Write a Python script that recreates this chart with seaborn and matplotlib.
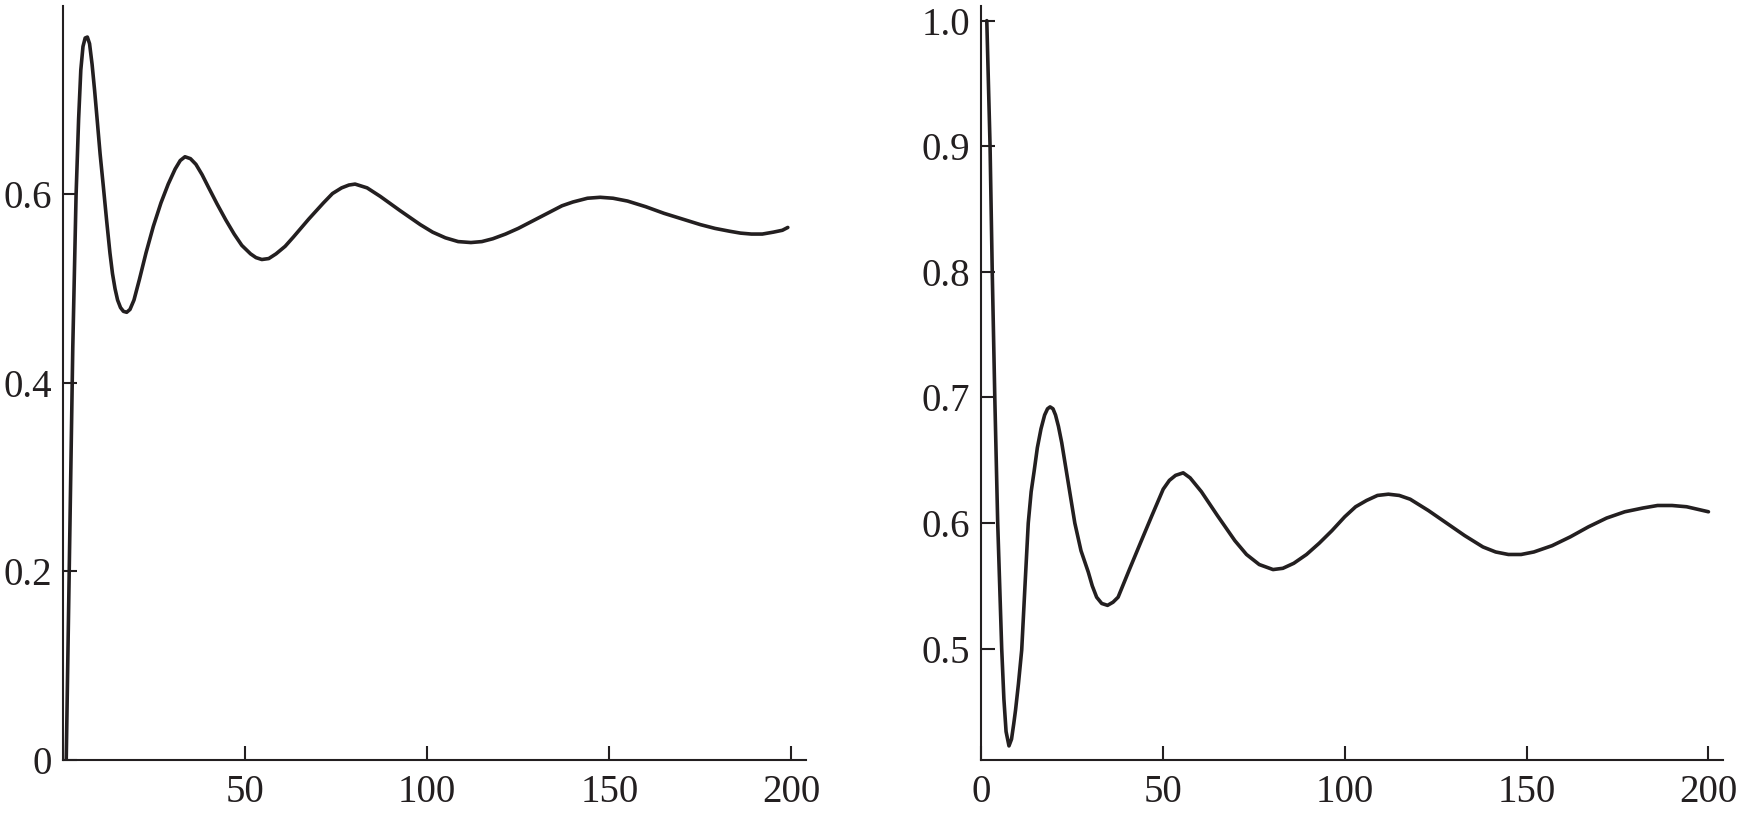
import numpy as np
import pandas as pd
import matplotlib
matplotlib.use("Agg")
import matplotlib.pyplot as plt
import seaborn as sns

# left panel curve
left_x = [0.9, 1.8, 2.7, 3.6, 4.3, 4.9, 5.5, 6.1, 6.7, 7.3, 8.0, 8.7, 9.4, 10.2,
          11.1, 12.0, 12.9, 13.6, 14.3, 15.0, 15.8, 16.6, 17.5, 18.4, 19.5, 21.0,
          22.8, 24.8, 26.9, 28.9, 30.8, 32.2, 33.5, 35.0, 36.5, 38.2, 39.9, 42.3,
          44.7, 47.0, 49.1, 51.5, 53.0, 54.6, 56.5, 58.5, 61.0, 63.3, 67.5, 71.5,
          74.0, 76.5, 78.5, 80.2, 83.5, 87.1, 92.5, 98.1, 101.5, 105.0, 108.5,
          112.0, 115.0, 118.0, 121.5, 125.0, 129.0, 133.0, 137.0, 140.0, 144.0,
          147.5, 151.0, 155.0, 160.0, 165.0, 170.0, 175.0, 179.0, 183.0, 186.0,
          189.0, 192.0, 195.0, 197.5, 199.0]
left_y = [0.0, 0.22, 0.438, 0.599, 0.680, 0.732, 0.757, 0.766, 0.767, 0.760,
          0.738, 0.710, 0.679, 0.643, 0.608, 0.572, 0.538, 0.516, 0.500, 0.488,
          0.480, 0.476, 0.475, 0.478, 0.488, 0.510, 0.538, 0.566, 0.591, 0.611,
          0.627, 0.636, 0.640, 0.638, 0.632, 0.621, 0.608, 0.590, 0.573, 0.558,
          0.546, 0.537, 0.533, 0.531, 0.532, 0.537, 0.545, 0.555, 0.574, 0.591,
          0.601, 0.607, 0.610, 0.611, 0.607, 0.598, 0.583, 0.568, 0.560, 0.554,
          0.550, 0.549, 0.550, 0.553, 0.558, 0.564, 0.572, 0.580, 0.588, 0.592,
          0.596, 0.597, 0.596, 0.593, 0.587, 0.580, 0.574, 0.568, 0.564, 0.561,
          0.559, 0.558, 0.558, 0.560, 0.562, 0.565]

# right panel curve
right_x = [1.6, 2.5, 3.1, 3.8, 4.6, 5.7, 6.3, 6.9, 7.7, 8.4, 9.0, 9.5, 10.3,
           11.2, 12.1, 13.0, 13.8, 14.6, 15.5, 16.5, 17.5, 18.3, 19.0, 19.8,
           20.5, 21.3, 22.2, 24.0, 25.8, 27.5, 29.5, 30.6, 31.8, 33.2, 34.8,
           36.3, 37.7, 40.8, 44.1, 47.0, 50.1, 51.8, 53.5, 55.6, 57.5, 60.6,
           65.0, 69.8, 73.0, 76.5, 80.3, 83.0, 86.0, 89.5, 93.0, 96.5, 100.0,
           103.0, 106.0, 109.0, 112.0, 115.0, 118.0, 123.0, 128.0, 133.0, 138.0,
           141.5, 145.0, 148.5, 152.0, 157.0, 162.0, 167.0, 172.0, 177.0, 182.0,
           186.0, 190.0, 194.0, 197.0, 200.0]
right_y = [1.0, 0.9, 0.8, 0.7, 0.6, 0.5, 0.46, 0.434, 0.4226, 0.428, 0.440,
           0.451, 0.472, 0.499, 0.550, 0.600, 0.625, 0.641, 0.660, 0.675, 0.686,
           0.691, 0.6925, 0.691, 0.686, 0.677, 0.664, 0.632, 0.600, 0.578, 0.561,
           0.550, 0.541, 0.536, 0.5345, 0.537, 0.541, 0.563, 0.586, 0.606, 0.627,
           0.634, 0.638, 0.640, 0.636, 0.625, 0.606, 0.586, 0.575, 0.567, 0.563,
           0.564, 0.568, 0.575, 0.584, 0.594, 0.605, 0.613, 0.618, 0.622, 0.623,
           0.622, 0.619, 0.610, 0.600, 0.590, 0.581, 0.577, 0.575, 0.575, 0.577,
           0.582, 0.589, 0.597, 0.604, 0.609, 0.612, 0.614, 0.614, 0.613, 0.611,
           0.609]

left_xticks = [50, 100, 150, 200]
left_yticks = [0, 0.2, 0.4, 0.6]
left_ylabels = ["0", "0.2", "0.4", "0.6"]
right_xticks = [0, 50, 100, 150, 200]
right_yticks = [0.5, 0.6, 0.7, 0.8, 0.9, 1.0]
right_ylabels = ["0.5", "0.6", "0.7", "0.8", "0.9", "1.0"]

sns.set_style("ticks")
plt.rcParams["font.family"] = ["Liberation Serif", "DejaVu Serif"]
ink = "#231f20"

fig = plt.figure(figsize=(17.39, 8.17), dpi=100)
ax1 = fig.add_axes([0.0362, 0.0698, 0.4273, 0.9229])
ax2 = fig.add_axes([0.5641, 0.0698, 0.4267, 0.9229])

sns.lineplot(x=left_x, y=left_y, ax=ax1, color=ink, linewidth=2.6, sort=False)
sns.lineplot(x=right_x, y=right_y, ax=ax2, color=ink, linewidth=2.6, sort=False)

ax1.set_xlim(0, 204)
ax1.set_ylim(0, 0.80)
ax1.set_xticks(left_xticks)
ax1.set_xticklabels([str(v) for v in left_xticks])
ax1.set_yticks(left_yticks)
ax1.set_yticklabels(left_ylabels)

ax2.set_xlim(0, 204)
ax2.set_ylim(0.4114, 1.0117)
ax2.set_xticks(right_xticks)
ax2.set_xticklabels([str(v) for v in right_xticks])
ax2.set_yticks(right_yticks)
ax2.set_yticklabels(right_ylabels)

for ax in (ax1, ax2):
    sns.despine(ax=ax)
    for s in ("left", "bottom"):
        ax.spines[s].set_linewidth(1.5)
        ax.spines[s].set_color(ink)
    ax.tick_params(direction="in", length=10, width=1.5, color=ink,
                   labelsize=28, labelcolor=ink)
    ax.tick_params(axis="x", pad=10)
    ax.tick_params(axis="y", pad=8)

fig.savefig("out.png", dpi=100)
